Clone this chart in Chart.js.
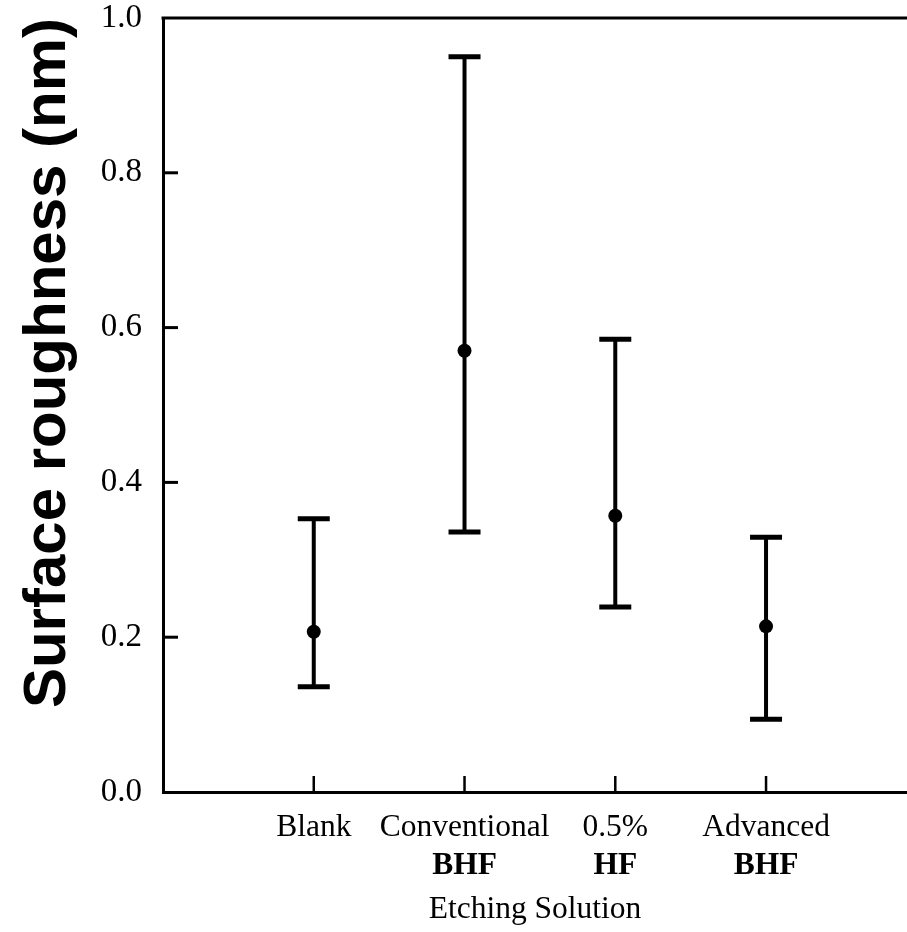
<!DOCTYPE html>
<html>
<head>
<meta charset="utf-8">
<script src="https://cdn.jsdelivr.net/npm/chart.js@4.4.1/dist/chart.umd.min.js"></script>
<style>
  html, body { margin: 0; padding: 0; background: #fff; overflow: hidden; }
  #wrap { width: 907px; height: 932px; }
</style>
</head>
<body>
<div id="wrap"><canvas id="roughChart" width="907" height="932"></canvas></div>
<script>
// Etching solutions (two-line labels) and their x positions
const labelTop = ["Blank", "Conventional", "0.5%", "Advanced"];
const labelBottom = ["", "BHF", "HF", "BHF"];
const positions = [1, 2, 3, 4];

// Surface roughness in nm: mean, top and bottom of the range
const meanRough = [0.207, 0.570, 0.357, 0.214];
const upperRough = [0.353, 0.950, 0.585, 0.329];
const lowerRough = [0.136, 0.336, 0.239, 0.094];

const yTickStep = 0.2;
const serif = "'Liberation Serif', 'Times New Roman', serif";

// range bars under the mean dots
const rangeBars = {
  id: "rangeBars",
  beforeDatasetsDraw(chart) {
    const { ctx, scales: { x, y } } = chart;
    ctx.save();
    ctx.strokeStyle = "#000";
    ctx.lineCap = "butt";
    positions.forEach((p, i) => {
      const px = x.getPixelForValue(p);
      const top = y.getPixelForValue(upperRough[i]);
      const bot = y.getPixelForValue(lowerRough[i]);
      ctx.lineWidth = 4;
      ctx.beginPath();
      ctx.moveTo(px, top);
      ctx.lineTo(px, bot);
      ctx.stroke();
      ctx.lineWidth = 5;
      ctx.beginPath();
      ctx.moveTo(px - 16, top); ctx.lineTo(px + 16, top);
      ctx.moveTo(px - 16, bot); ctx.lineTo(px + 16, bot);
      ctx.stroke();
    });
    ctx.restore();
  }
};

// top frame line, inward ticks and the text around the plot
const frame = {
  id: "frame",
  afterDraw(chart) {
    const { ctx, chartArea: a, scales: { x, y } } = chart;
    ctx.save();
    ctx.strokeStyle = "#000";
    ctx.fillStyle = "#000";

    ctx.lineWidth = 3;
    ctx.beginPath();
    ctx.moveTo(a.left - 1.5, a.top);
    ctx.lineTo(a.right, a.top);
    ctx.stroke();

    // y ticks point into the plot
    ctx.lineWidth = 3;
    y.ticks.forEach(t => {
      if (t.value <= y.min || t.value >= y.max) return;
      const py = y.getPixelForValue(t.value);
      ctx.beginPath();
      ctx.moveTo(a.left, py);
      ctx.lineTo(a.left + 15, py);
      ctx.stroke();
    });

    // x ticks and category labels
    ctx.lineWidth = 2.5;
    ctx.textAlign = "center";
    ctx.textBaseline = "alphabetic";
    positions.forEach((p, i) => {
      const px = x.getPixelForValue(p);
      ctx.beginPath();
      ctx.moveTo(px, a.bottom);
      ctx.lineTo(px, a.bottom - 16);
      ctx.stroke();
      ctx.font = "31.5px " + serif;
      ctx.fillText(labelTop[i], px, 836);
      if (labelBottom[i]) {
        ctx.font = "bold 31.5px " + serif;
        ctx.fillText(labelBottom[i], px, 874);
      }
    });

    ctx.font = "31.5px " + serif;
    ctx.fillText("Etching Solution", (a.left + a.right) / 2, 918);

    // rotated y title
    ctx.translate(65, 363);
    ctx.rotate(-Math.PI / 2);
    ctx.font = "bold 60px 'Liberation Sans', Arial, sans-serif";
    ctx.fillText("Surface roughness (nm)", 0, 0);
    ctx.restore();
  }
};

new Chart(document.getElementById("roughChart"), {
  type: "scatter",
  data: {
    datasets: [{
      data: positions.map((p, i) => ({ x: p, y: meanRough[i] })),
      pointRadius: 7,
      pointHoverRadius: 7,
      backgroundColor: "#000",
      borderWidth: 0
    }]
  },
  options: {
    responsive: false,
    animation: false,
    events: [],
    layout: { padding: { top: 18, right: 0, left: 0, bottom: 0 }, autoPadding: false },
    plugins: {
      legend: { display: false },
      tooltip: { enabled: false }
    },
    scales: {
      x: {
        type: "linear",
        min: 0,
        max: 4.935,
        grid: { display: false },
        border: { display: true, color: "#000", width: 3 },
        ticks: { display: false },
        afterFit(scale) {
          scale.height = 140;
          scale.paddingLeft = 0;
          scale.paddingRight = 0;
        }
      },
      y: {
        min: 0,
        max: 1,
        grid: { display: false },
        border: { display: true, color: "#000", width: 3 },
        ticks: {
          stepSize: yTickStep,
          color: "#000",
          padding: 13,
          font: { family: serif, size: 33 },
          callback: v => v.toFixed(1)
        },
        afterFit(scale) {
          scale.width = 163;
          scale.paddingTop = 0;
          scale.paddingBottom = 0;
        }
      }
    }
  },
  plugins: [rangeBars, frame]
});
</script>
</body>
</html>
